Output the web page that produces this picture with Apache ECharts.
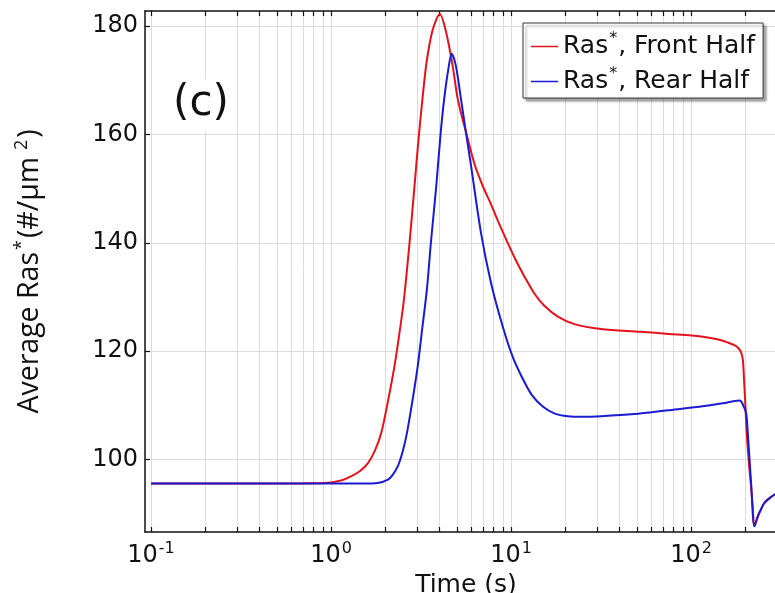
<!DOCTYPE html>
<html><head><meta charset="utf-8">
<script src="https://cdn.jsdelivr.net/npm/echarts@6/dist/echarts.min.js"></script>
<style>html,body{margin:0;padding:0;background:#fff}#c{width:775px;height:593px}</style>
</head><body><div id="c"></div>
<script>
// Data (time in seconds, Ras* in #/um^2)
const frontTime  = [0.1, 0.5, 0.8, 1.0, 1.15, 1.29, 1.45, 1.6, 1.75, 1.9, 2.08, 2.25, 2.4, 2.54, 2.72, 2.9, 3.05, 3.23, 3.4, 3.67, 4.02, 4.36, 4.74, 5.06, 5.62, 6.3, 7.0, 7.74, 8.44, 9.58, 10.7, 11.86, 13.5, 15.3, 18.2, 22.5, 31.6, 52.7, 75, 113.6, 140, 160, 175, 183, 190, 194, 197, 201, 204, 210, 215.4, 220, 224.8, 234.5, 239.5, 255.3, 278, 296, 320];
const frontValue = [95.6, 95.6, 95.65, 95.8, 96.2, 96.9, 97.9, 99.3, 101.6, 104.9, 111.1, 117.2, 123.4, 129.5, 139.5, 150.0, 158.5, 167.0, 173.5, 179.3, 182.2, 178.8, 172.6, 166.5, 160.4, 154.3, 150.3, 147.1, 144.1, 140.0, 136.6, 133.8, 130.6, 128.4, 126.4, 125.0, 124.1, 123.6, 123.2, 122.7, 122.2, 121.6, 121.1, 120.6, 119.7, 118.3, 114.5, 109.0, 104.5, 99.0, 95.0, 91.3, 87.7, 89.5, 90.2, 92.0, 93.1, 93.7, 94.2];
const rearTime   = [0.1, 1.0, 1.5, 1.82, 2.07, 2.2, 2.35, 2.5, 2.64, 2.84, 3.03, 3.19, 3.41, 3.59, 3.84, 4.07, 4.26, 4.49, 4.68, 4.94, 5.27, 5.62, 6.0, 6.81, 7.74, 8.98, 10.2, 11.5, 13.0, 15.0, 17.5, 20.7, 25, 31.6, 48.4, 74.2, 113.6, 150, 185.4, 190, 196, 202.1, 206.6, 215.4, 224.8, 234.5, 239.5, 255.3, 278, 296, 320];
const rearValue  = [95.6, 95.6, 95.6, 95.7, 96.3, 97.2, 98.8, 101.5, 104.9, 111.1, 117.2, 123.4, 131.5, 140.2, 150.4, 160.5, 166.8, 172.2, 174.9, 172.6, 166.5, 160.3, 154.1, 141.8, 132.6, 124.6, 119.0, 115.2, 112.0, 109.8, 108.5, 108.0, 107.9, 108.0, 108.4, 109.1, 109.8, 110.4, 110.9, 110.7, 109.8, 108.6, 104.9, 95.7, 87.7, 89.5, 90.2, 92.0, 93.1, 93.7, 94.2];
const seriesNames = ['Ras*, Front Half', 'Ras*, Rear Half'];
const xTickLabels = [0.1, 1, 10, 100];
const yTickLabels = [100, 120, 140, 160, 180];
const xMin = 0.0926, xMax = 341;
const yMin = 86.65, yMax = 182.77;

const minorTicks = [];
[-1, 0, 1, 2].forEach(e => { for (let m = 1; m <= 9; m++) { const v = m * Math.pow(10, e); if (v >= xMin && v <= xMax) minorTicks.push(v); } });

const zip = (a, b) => a.map((t, i) => [t, b[i]]);
const FONT = 'DejaVu Sans';
const gridColor = '#dcdcdc';

const chart = echarts.init(document.getElementById('c'), null, {renderer: 'canvas'});
chart.setOption({
  animation: false,
  backgroundColor: '#fff',
  title: {
    text: '(c)', left: 170, top: 79, padding: [4, 3, 6, 3], backgroundColor: '#fff',
    textStyle: {fontSize: 42, fontFamily: FONT, fontWeight: 'normal', color: '#111'}
  },
  grid: {left: 145, top: 11, bottom: 61, right: -12, containLabel: false, outerBoundsMode: 'none'},
  legend: {
    orient: 'vertical', left: 523, top: 23, padding: [8, 8, 4, 8], itemGap: 7,
    itemWidth: 27, itemHeight: 1.5, icon: 'rect',
    backgroundColor: '#fff', borderColor: '#333', borderWidth: 1,
    shadowColor: 'rgba(0,0,0,0.35)', shadowBlur: 2, shadowOffsetX: 3, shadowOffsetY: 3,
    data: seriesNames,
    formatter: name => { const p = name.split('*'); return '{t|' + p[0] + '}{s|*}{t|' + p[1] + '}'; },
    textStyle: {
      rich: {
        t: {fontSize: 25, fontFamily: FONT, color: '#111', lineHeight: 31},
        s: {fontSize: 16, fontFamily: FONT, color: '#111', lineHeight: 16, verticalAlign: 'top', padding: [0, 1, 0, 1]}
      }
    }
  },
  xAxis: [{
    type: 'log', logBase: 10, min: xMin, max: xMax, position: 'bottom',
    name: 'Time (s)', nameLocation: 'middle', nameGap: 31,
    nameTextStyle: {fontSize: 25, fontFamily: FONT, color: '#111'},
    axisLine: {show: true, lineStyle: {color: '#111', width: 1.5}},
    axisTick: {show: true, inside: true, length: 5, customValues: minorTicks, lineStyle: {color: '#111', width: 1.2}},
    minorTick: {show: false},
    splitLine: {show: true, lineStyle: {color: gridColor, width: 1}},
    axisLabel: {
      customValues: xTickLabels, margin: 9,
      formatter: v => '{b|10}{s|' + Math.round(Math.log10(v)) + '}',
      rich: {
        b: {fontSize: 24, fontFamily: FONT, color: '#111', lineHeight: 30},
        s: {fontSize: 16, fontFamily: FONT, color: '#111', lineHeight: 16, verticalAlign: 'top', padding: [0, 0, 0, 1]}
      }
    }
  }, {
    type: 'log', logBase: 10, min: xMin, max: xMax, position: 'top',
    axisLine: {show: true, lineStyle: {color: '#111', width: 1.5}},
    axisTick: {show: true, inside: true, length: 5, customValues: minorTicks, lineStyle: {color: '#111', width: 1.2}},
    splitLine: {show: false},
    axisLabel: {show: false}
  }],
  yAxis: {
    type: 'value', min: yMin, max: yMax,
    name: '{a|Average Ras}{s|*}{a|(#/μm}{s| 2}{a|)}', nameLocation: 'middle', nameGap: 98,
    nameTextStyle: {
      rich: {
        a: {fontSize: 28.5, fontFamily: 'Open Sans', color: '#111', lineHeight: 34},
        s: {fontSize: 18, fontFamily: 'Open Sans', color: '#111', lineHeight: 18, verticalAlign: 'top', padding: [0, 2, 0, 2]}
      }
    },
    axisLine: {show: true, lineStyle: {color: '#111', width: 1.5}},
    axisTick: {show: true, inside: true, length: 5, customValues: yTickLabels, lineStyle: {color: '#111', width: 1.2}},
    splitLine: {show: true, lineStyle: {color: gridColor, width: 1}},
    axisLabel: {customValues: yTickLabels, margin: 7, fontSize: 24, fontFamily: FONT, color: '#111'}
  },
  series: [
    {name: seriesNames[0], type: 'line', data: zip(frontTime, frontValue), showSymbol: false, symbol: 'none',
     smooth: 0.3,
     lineStyle: {color: '#e3121c', width: 2}, itemStyle: {color: '#e3121c'}, clip: true},
    {name: seriesNames[1], type: 'line', data: zip(rearTime, rearValue), showSymbol: false, symbol: 'none',
     smooth: 0.3,
     lineStyle: {color: '#1a1ad0', width: 2}, itemStyle: {color: '#1a1ad0'}, clip: true}
  ]
});
</script></body></html>
